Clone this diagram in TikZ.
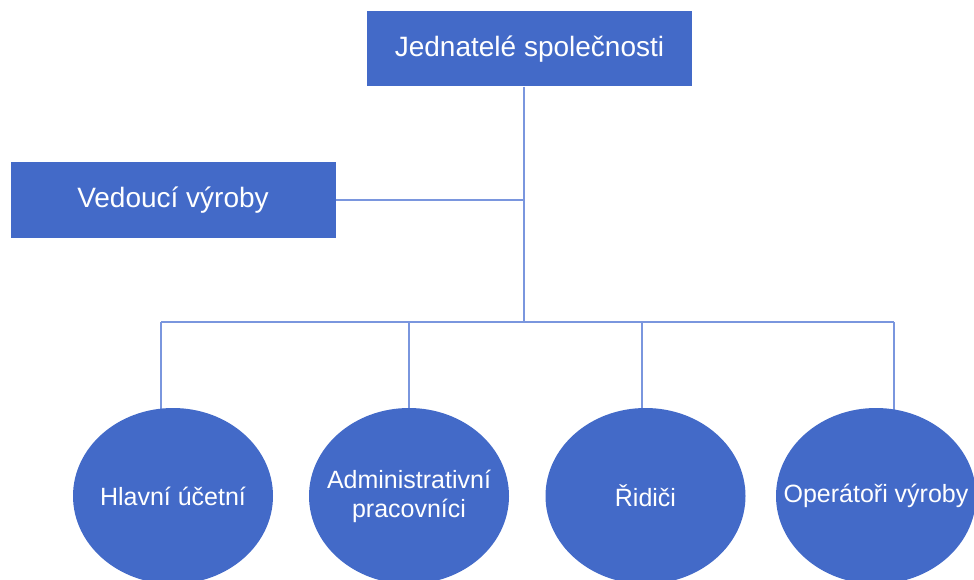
\documentclass[tikz,border=0pt]{standalone}
\usepackage{fontspec}
\setmainfont{Liberation Sans}
\usetikzlibrary{shapes.geometric}
\definecolor{boxblue}{RGB}{67,106,200}
\definecolor{lineblue}{RGB}{122,150,222}
\tikzset{
  rectbox/.style={rectangle, fill=boxblue, text=white, inner sep=0pt,
    minimum width=325pt, minimum height=75pt, font=\fontsize{28}{32}\selectfont},
  ellbox/.style={ellipse, fill=boxblue, inner sep=0pt,
    minimum width=200pt, minimum height=176pt},
  elltext/.style={text=white, inner sep=0pt, align=center,
    font=\fontsize{25}{29}\selectfont},
  conn/.style={draw=lineblue, line width=1.6pt}
}
\begin{document}
\begin{tikzpicture}[x=1pt,y=-1pt]
\useasboundingbox (0,0) rectangle (974,580);
\clip (0,0) rectangle (974,580);
% nodes
\node[rectbox] (top) at (529.5,49) {Jednatelé společnosti};
\node[rectbox] (left) at (173,200) {Vedoucí výroby};
\coordinate (j) at (524,322);
\coordinate (b1) at (161,322);
\coordinate (b2) at (409,322);
\coordinate (b3) at (642,322);
\coordinate (b4) at (894,322);
% connectors (under the ellipses)
\draw[conn] (top.south -| j) -- (j);
\draw[conn] (left.east) -- (left.east -| j);
\draw[conn] (b1) -- (b4);
\draw[conn] (b1) -- (b1 |- 0,412);
\draw[conn] (b2) -- (b2 |- 0,412);
\draw[conn] (b3) -- (b3 |- 0,412);
\draw[conn] (b4) -- (b4 |- 0,412);
% ellipses
\node[ellbox] (e1) at (173,496) {};
\node[ellbox] (e2) at (409,496) {};
\node[ellbox] (e3) at (645.5,496) {};
\node[ellbox] (e4) at (876,496) {};
\node[elltext] (t1) at (e1) {Hlavní účetní};
\node[elltext] (t2) at (e2) {Administrativní\\pracovníci};
\node[elltext] (t3) at (e3) {Řidiči};
\node[elltext] (t4) at (e4) {Operátoři výroby};
\end{tikzpicture}
\end{document}
